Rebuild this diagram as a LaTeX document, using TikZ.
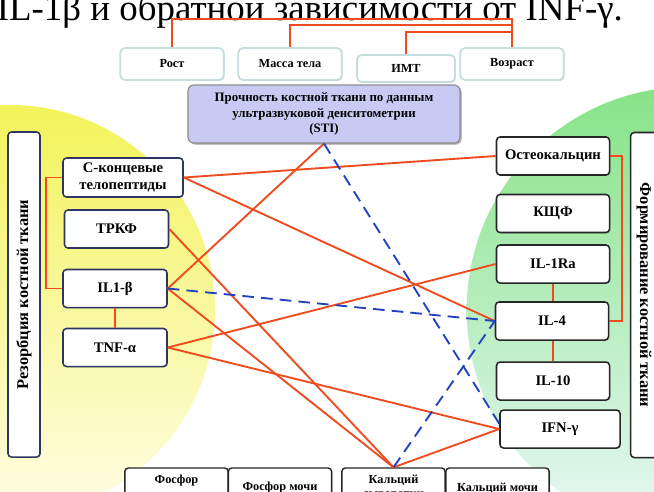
\documentclass[tikz,border=0pt]{standalone}
\usepackage{fontspec}
\setmainfont{Liberation Serif}
\usetikzlibrary{shadows}
\definecolor{linkred}{HTML}{EE4B1F}
\definecolor{linkblue}{HTML}{2342C0}
\definecolor{navyline}{HTML}{2F3562}
\definecolor{tealline}{HTML}{C6DDDD}
\definecolor{lavender}{HTML}{C9CAF3}
\definecolor{glowyellow}{HTML}{F3F35A}
\definecolor{paleyellow}{HTML}{FEFDE4}
\definecolor{glowgreen}{HTML}{86E386}
\definecolor{palecyan}{HTML}{E9F8F8}
\tikzset{
	basebox/.style={
			rounded corners=3pt, fill=white, align=center, inner sep=0pt,
			font=\bfseries\fontsize{12.5}{15}\selectfont,
			drop shadow={shadow xshift=0.8pt, shadow yshift=-0.8pt, opacity=0.35}
		},
	resbox/.style={basebox, draw=navyline, line width=1.3pt,
			minimum width=3.12cm, minimum height=1.14cm},
	formbox/.style={basebox, draw=black!85, line width=1.3pt,
			minimum width=3.39cm, minimum height=1.14cm},
	parambox/.style={basebox, draw=tealline, line width=1.5pt, rounded corners=4pt,
			minimum width=3.1cm, minimum height=0.96cm,
			font=\bfseries\fontsize{10.5}{12}\selectfont},
	minbox/.style={basebox, draw=black!85, line width=1.2pt,
			minimum width=3.1cm, minimum height=1.2cm,
			font=\bfseries\fontsize{10.5}{12}\selectfont},
	sidebox/.style={basebox, line width=1.3pt, minimum height=0.96cm,
			minimum width=9.75cm, font=\bfseries\fontsize{14}{16}\selectfont},
	link/.style={draw=linkred, line width=1.6pt},
	neglink/.style={draw=linkblue, line width=1.6pt, dash pattern=on 10pt off 6pt}
}

\begin{document}
\begin{tikzpicture}[x=0.03cm, y=-0.03cm]
		\useasboundingbox (0,0) rectangle (654,491);
		\clip (0,0) rectangle (654,491);

		% background glows
		\shade[top color=glowyellow, bottom color=paleyellow] (10,310) circle[radius=6.15cm];
		\shade[top color=glowgreen, bottom color=palecyan] (690,310) circle[radius=6.7cm];

		\node[anchor=base east, font=\fontsize{31.5}{32}\selectfont] (title) at (627,20)
		{IL-1β и обратной зависимости от INF-γ.};

		% side panels
		\node[sidebox, draw=navyline, rotate=90] (resorb) at (24,294.5) {Резорбция костной ткани};
		\node[sidebox, draw=black!85, rotate=-90, minimum height=0.8cm] (form) at (644,295) {Формирование костной ткани};

		% anthropometry
		\node[parambox] (height) at (172,64) {Рост};
		\node[parambox] (mass) at (290,64) {Масса тела};
		\node[parambox, minimum width=2.94cm, minimum height=0.81cm] (bmi) at (406,68.5) {ИМТ};
		\node[parambox] (age) at (512,64) {Возраст};

		\node[basebox, draw=black!45, fill=lavender, line width=1pt, rounded corners=5pt,
			minimum width=8.16cm, minimum height=1.74cm,
			font=\bfseries\fontsize{11}{13.5}\selectfont,
			drop shadow={shadow xshift=1.5pt, shadow yshift=-1.5pt, opacity=0.5}] (sti) at (324,114)
		{Прочность костной ткани по данным\\ультразвуковой денситометрии\\(STI)};

		% resorption markers
		\node[resbox, minimum width=3.6cm, minimum height=1.17cm] (ctx) at (123,177.5) {С-концевые\\телопептиды};
		\node[resbox] (trap) at (116.5,229) {ТРКФ};
		\node[resbox] (ilb) at (115,288.5) {IL1-β};
		\node[resbox] (tnfa) at (115,347.5) {TNF-α};

		% formation markers
		\node[formbox] (ocn) at (553,156) {Остеокальцин};
		\node[formbox] (alp) at (553,213.5) {КЩФ};
		\node[formbox] (ilra) at (553,264) {IL-1Ra};
		\node[formbox] (ilf) at (552,321) {IL-4};
		\node[formbox] (ilt) at (553,381) {IL-10};
		\node[formbox, minimum width=3.6cm] (ifng) at (560,429) {IFN-γ};

		% minerals
		\node[minbox] (pser) at (176.5,488) {Фосфор\\сыворотки};
		\node[minbox] (pur) at (280,488) {Фосфор мочи};
		\node[minbox] (caser) at (393.5,488) {Кальций\\сыворотки};
		\node[minbox] (caur) at (497.5,488) {Кальций мочи};

		% age bus
		\coordinate (bus1) at (512,19);
		\coordinate (bus2) at (512,25);
		\coordinate (bus3) at (512,32);
		\draw[link] (age.north) -- (bus1) -| (height.north);
		\draw[link] (bus2) -| (mass.north);
		\draw[link] (bus3) -| (bmi.north);

		% brackets
		\draw[link] (ctx.west) -- ++(-16,0) |- (ilb.west);
		\draw[link] (ilb.south) -- (tnfa.north);
		\draw[link] (ocn.east) -- ++(12,0) |- (ilf.east);
		\draw[link] (ilra.south) -- (ilra.south |- ilf.north);
		\draw[link] (ilf.south -| ilt.north) -- (ilt.north);

		% positive links
		\draw[link] (ctx.east) -- (ocn.west);
		\draw[link] (ctx.east) -- (ilf.west);
		\draw[link] (trap.east) -- (caser.north);
		\draw[link] (ilb.east) -- (sti.south);
		\draw[link] (ilb.east) -- (caser.north);
		\draw[link] (tnfa.east) -- (ilra.west);
		\draw[link] (tnfa.east) -- (ifng.west);
		\draw[link] (ifng.west) -- (caser.north);

		% negative links
		\draw[neglink] (ilb.east) -- (ilf.west);
		\draw[neglink] (sti.south) -- (ifng.175);
		\draw[neglink] (caser.north) -- (ilf.west);
	\end{tikzpicture}
\end{document}
